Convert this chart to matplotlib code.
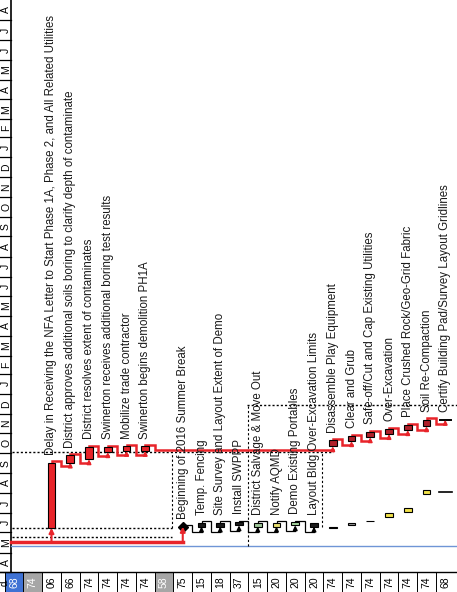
import matplotlib
matplotlib.use("Agg")
import matplotlib.pyplot as plt
import matplotlib.dates as mdates
from matplotlib.patches import Rectangle
import datetime as dt

plt.rcParams['font.family'] = ['Liberation Sans', 'DejaVu Sans']

# ---- data ----
months = ['A', 'M', 'J', 'J', 'A', 'S', 'O', 'N', 'D', 'J', 'F', 'M', 'A', 'M', 'J',
          'J', 'A', 'S', 'O', 'N', 'D', 'J', 'F', 'M', 'A', 'M', 'J', 'J', 'A']
first_month = "2016-04-01"
last_day = "2018-09-01"

header_vals = ["68", "74", "06", "66", "74", "74", "74", "74", "58", "75", "15", "18",
               "37", "15", "20", "20", "20", "74", "74", "74", "74", "74", "74", "68"]
header_fill = {0: "#3f72d4", 1: "#a6a6a6", 8: "#a6a6a6"}

task_cols = [2, 3, 4, 5, 6, 7, 9, 10, 11, 12, 13, 14, 15, 16, 17, 18, 19, 20, 21, 22, 23]
task_names = [
    "Delay in Receiving the NFA Letter to Start Phase 1A, Phase 2, and All Related Utilities",
    "District approves additional soils boring to clarify depth of contaminate",
    "District resolves extent of contaminates",
    "Swinerton receives additional boring test results",
    "Mobilize trade contractor",
    "Swinerton begins demolition PH1A",
    "Beginning of 2016 Summer Break",
    "Temp. Fencing",
    "Site Survey and Layout Extent of Demo",
    "Install SWPPP",
    "District Salvage & Move Out",
    "Notify AQMD",
    "Demo Existing Portables",
    "Layout Bldg Over-Excavation Limits",
    "Disassemble Play Equipment",
    "Clear and Grub",
    "Safe-off/Cut and Cap Existing Utilities",
    "Over-Excavation",
    "Place Crushed Rock/Geo-Grid Fabric",
    "Soil Re-Compaction",
    "Certify Building Pad/Survey Layout Gridlines",
]
task_start = ["2016-06-08", "2016-09-17", "2016-09-22", "2016-10-03", "2016-10-05", "2016-10-05",
              "2016-06-10", "2016-06-10", "2016-06-10", "2016-06-12", "2016-06-10", "2016-06-10",
              "2016-06-12", "2016-06-10",
              "2016-10-12", "2016-10-20", "2016-10-26", "2016-10-31", "2016-11-06", "2016-11-12",
              "2016-11-22"]
task_end = ["2016-09-17", "2016-09-28", "2016-10-11", "2016-10-11", "2016-10-12", "2016-10-12",
            "2016-06-10", "2016-06-16", "2016-06-16", "2016-06-17", "2016-06-16", "2016-06-16",
            "2016-06-17", "2016-06-16",
            "2016-10-21", "2016-10-28", "2016-11-03", "2016-11-08", "2016-11-14", "2016-11-22",
            "2016-11-22"]
task_color = ["#e8242a"] * 6 + ["black", "#1a1a1a", "#1a1a1a", "#1a1a1a", "#9fc99a", "#e8e070",
                               "#a8d8a0", "#1a1a1a"] + ["#b0202a"] * 6 + ["black"]

# original plan bars of the later tasks
base_cols = [17, 18, 19, 20, 21, 22, 23]
base_start = ["2016-06-08", "2016-06-13", "2016-06-18", "2016-06-25", "2016-07-03", "2016-07-30",
              "2016-08-02"]
base_end = ["2016-06-09", "2016-06-16", "2016-06-19", "2016-07-01", "2016-07-09", "2016-08-06",
            "2016-08-02"]
base_color = ["#333333", "#9a9a9a", "#9a9a9a", "#f2e24a", "#f2e24a", "#f2e24a", "black"]

critical_chain = [0, 1, 2, 3, 4, 5, 14, 15, 16, 17, 18, 19, 20]
black_chain = [6, 7, 8, 9, 10, 11, 12, 13]
project_start = "2016-05-17"
status_date = "2016-05-11"
guide_dates = {"2016-05-25": (0, 8.4), "2016-06-08": (0, 8.4), "2016-10-03": (0, 17),
               "2016-12-15": (12.5, 24)}


def dn(s):
    return mdates.datestr2num(s)


# ---- figure ----
W, H = 457, 592
fig = plt.figure(figsize=(W / 100, H / 100), dpi=100)
ax = fig.add_axes([0, 0, 1, 1])
pitch = 18.75
x0 = 14.0
ax.set_xlim(-x0 / pitch, (W - x0) / pitch)
ppd = 572 / (dn(last_day) - dn(first_month))
ax.set_ylim(dn(first_month) - 20 / ppd, dn(last_day))
ax.axis('off')

ystart = dn(first_month)
xl = -x0 / pitch
xstrip = 11 / pitch + xl

# month strip on the left
d = dt.date(2016, 4, 1)
for m in months:
    nxt = dt.date(d.year + (d.month // 12), d.month % 12 + 1, 1)
    a, b = mdates.date2num(d), mdates.date2num(nxt)
    ax.plot([xl, xstrip], [a, a], color='black', lw=0.9)
    ax.text((xl + xstrip) / 2 + 0.03, (a + b) / 2, m, rotation=90, ha='center', va='center',
            fontsize=7.5)
    d = nxt
ax.plot([xstrip, xstrip], [ystart, dn(last_day)], color='black', lw=1.2)

# header strip at the bottom
ybot = dn(first_month) - 20 / ppd
ax.plot([xl, 24], [ystart, ystart], color='black', lw=1.0)
for i, v in enumerate(header_vals):
    if i in header_fill:
        ax.add_patch(Rectangle((i - 0.5, ybot), 1, ystart - ybot, color=header_fill[i], lw=0))
    ax.plot([i - 0.5, i - 0.5], [ybot, ystart], color='black', lw=0.7)
    ax.text(i, (ybot + ystart) / 2, v, rotation=90, ha='center', va='center', fontsize=7.5,
            color='white' if i in header_fill else 'black')
ax.text(xl + 0.25, (ybot + ystart) / 2, "d.", rotation=90, ha='center', va='center', fontsize=7)

# status / guide lines
ax.plot([xstrip, 24], [dn(status_date)] * 2, color='#6f95d6', lw=1.0)
for ds, (c0, c1) in guide_dates.items():
    ax.plot([c0 - 0.1, c1], [dn(ds)] * 2, color='black', lw=1.0, ls=(0, (1.5, 1.5)))
ax.plot([8.4, 8.4], [dn("2016-06-08"), dn("2016-10-03")], color='black', lw=0.8, ls=(0, (2, 2)))
ax.plot([12.5, 12.5], [dn(status_date), dn("2016-12-15")], color='black', lw=0.8, ls=(0, (2, 2)))
ax.plot([16.4, 16.4], [dn("2016-06-10"), dn("2016-10-03")], color='black', lw=0.8, ls=(0, (2, 2)))

bw = 0.42


def link(a, b, color, back):
    xa, xb = task_cols[a], task_cols[b]
    ea, sb = dn(task_end[a]), dn(task_start[b])
    pts_x = [xa, xa, xa + 0.5, xa + 0.5, xb]
    pts_y = [ea, ea + 2, ea + 2, sb - back, sb - back]
    ax.plot(pts_x, pts_y, color=color, lw=1.8 if color != 'black' else 0.9, solid_joinstyle='miter')
    ax.annotate("", xy=(xb, sb), xytext=(xb, sb - back),
                arrowprops=dict(arrowstyle='-|>', color=color, lw=1.2, mutation_scale=6,
                                shrinkA=0, shrinkB=0))


# project start link
ps = dn(project_start)
ax.plot([xl + 0.6, task_cols[6]], [ps, ps], color='#e8242a', lw=2.5)
for k in (0, 6):
    ax.annotate("", xy=(task_cols[k], dn(task_start[k])), xytext=(task_cols[k], ps),
                arrowprops=dict(arrowstyle='-|>', color='#e8242a', lw=1.5, mutation_scale=7,
                                shrinkA=0, shrinkB=0))

for a, b in zip(critical_chain[:-1], critical_chain[1:]):
    link(a, b, '#e8242a', 6)
for a, b in zip(black_chain[:-1], black_chain[1:]):
    link(a, b, 'black', 8)

# baseline bars
for c, s, e, col in zip(base_cols, base_start, base_end, base_color):
    if s == e:
        ax.plot([c - 0.35, c + 0.35], [dn(s)] * 2, color=col, lw=1.2)
    else:
        ax.add_patch(Rectangle((c - bw / 2, dn(s)), bw, dn(e) - dn(s), facecolor=col,
                               edgecolor='black', lw=0.8))

# task bars and labels
for i, (c, name, s, e, col) in enumerate(zip(task_cols, task_names, task_start, task_end, task_color)):
    ys, ye = dn(s), dn(e)
    if ys == ye:
        if i == 6:
            ax.plot(c, ys, marker='D', color='black', ms=5)
        else:
            ax.plot([c - 0.3, c + 0.3], [ys, ys], color='black', lw=1.4)
    else:
        ax.add_patch(Rectangle((c - bw / 2, ys), bw, ye - ys, facecolor=col, edgecolor='black',
                               lw=0.8, zorder=3))
    ax.text(c, ye + 12, name, rotation=90, ha='center', va='bottom', fontsize=8.3,
            color='#1a1a1a', zorder=4)

fig.savefig("out.png", dpi=100)
